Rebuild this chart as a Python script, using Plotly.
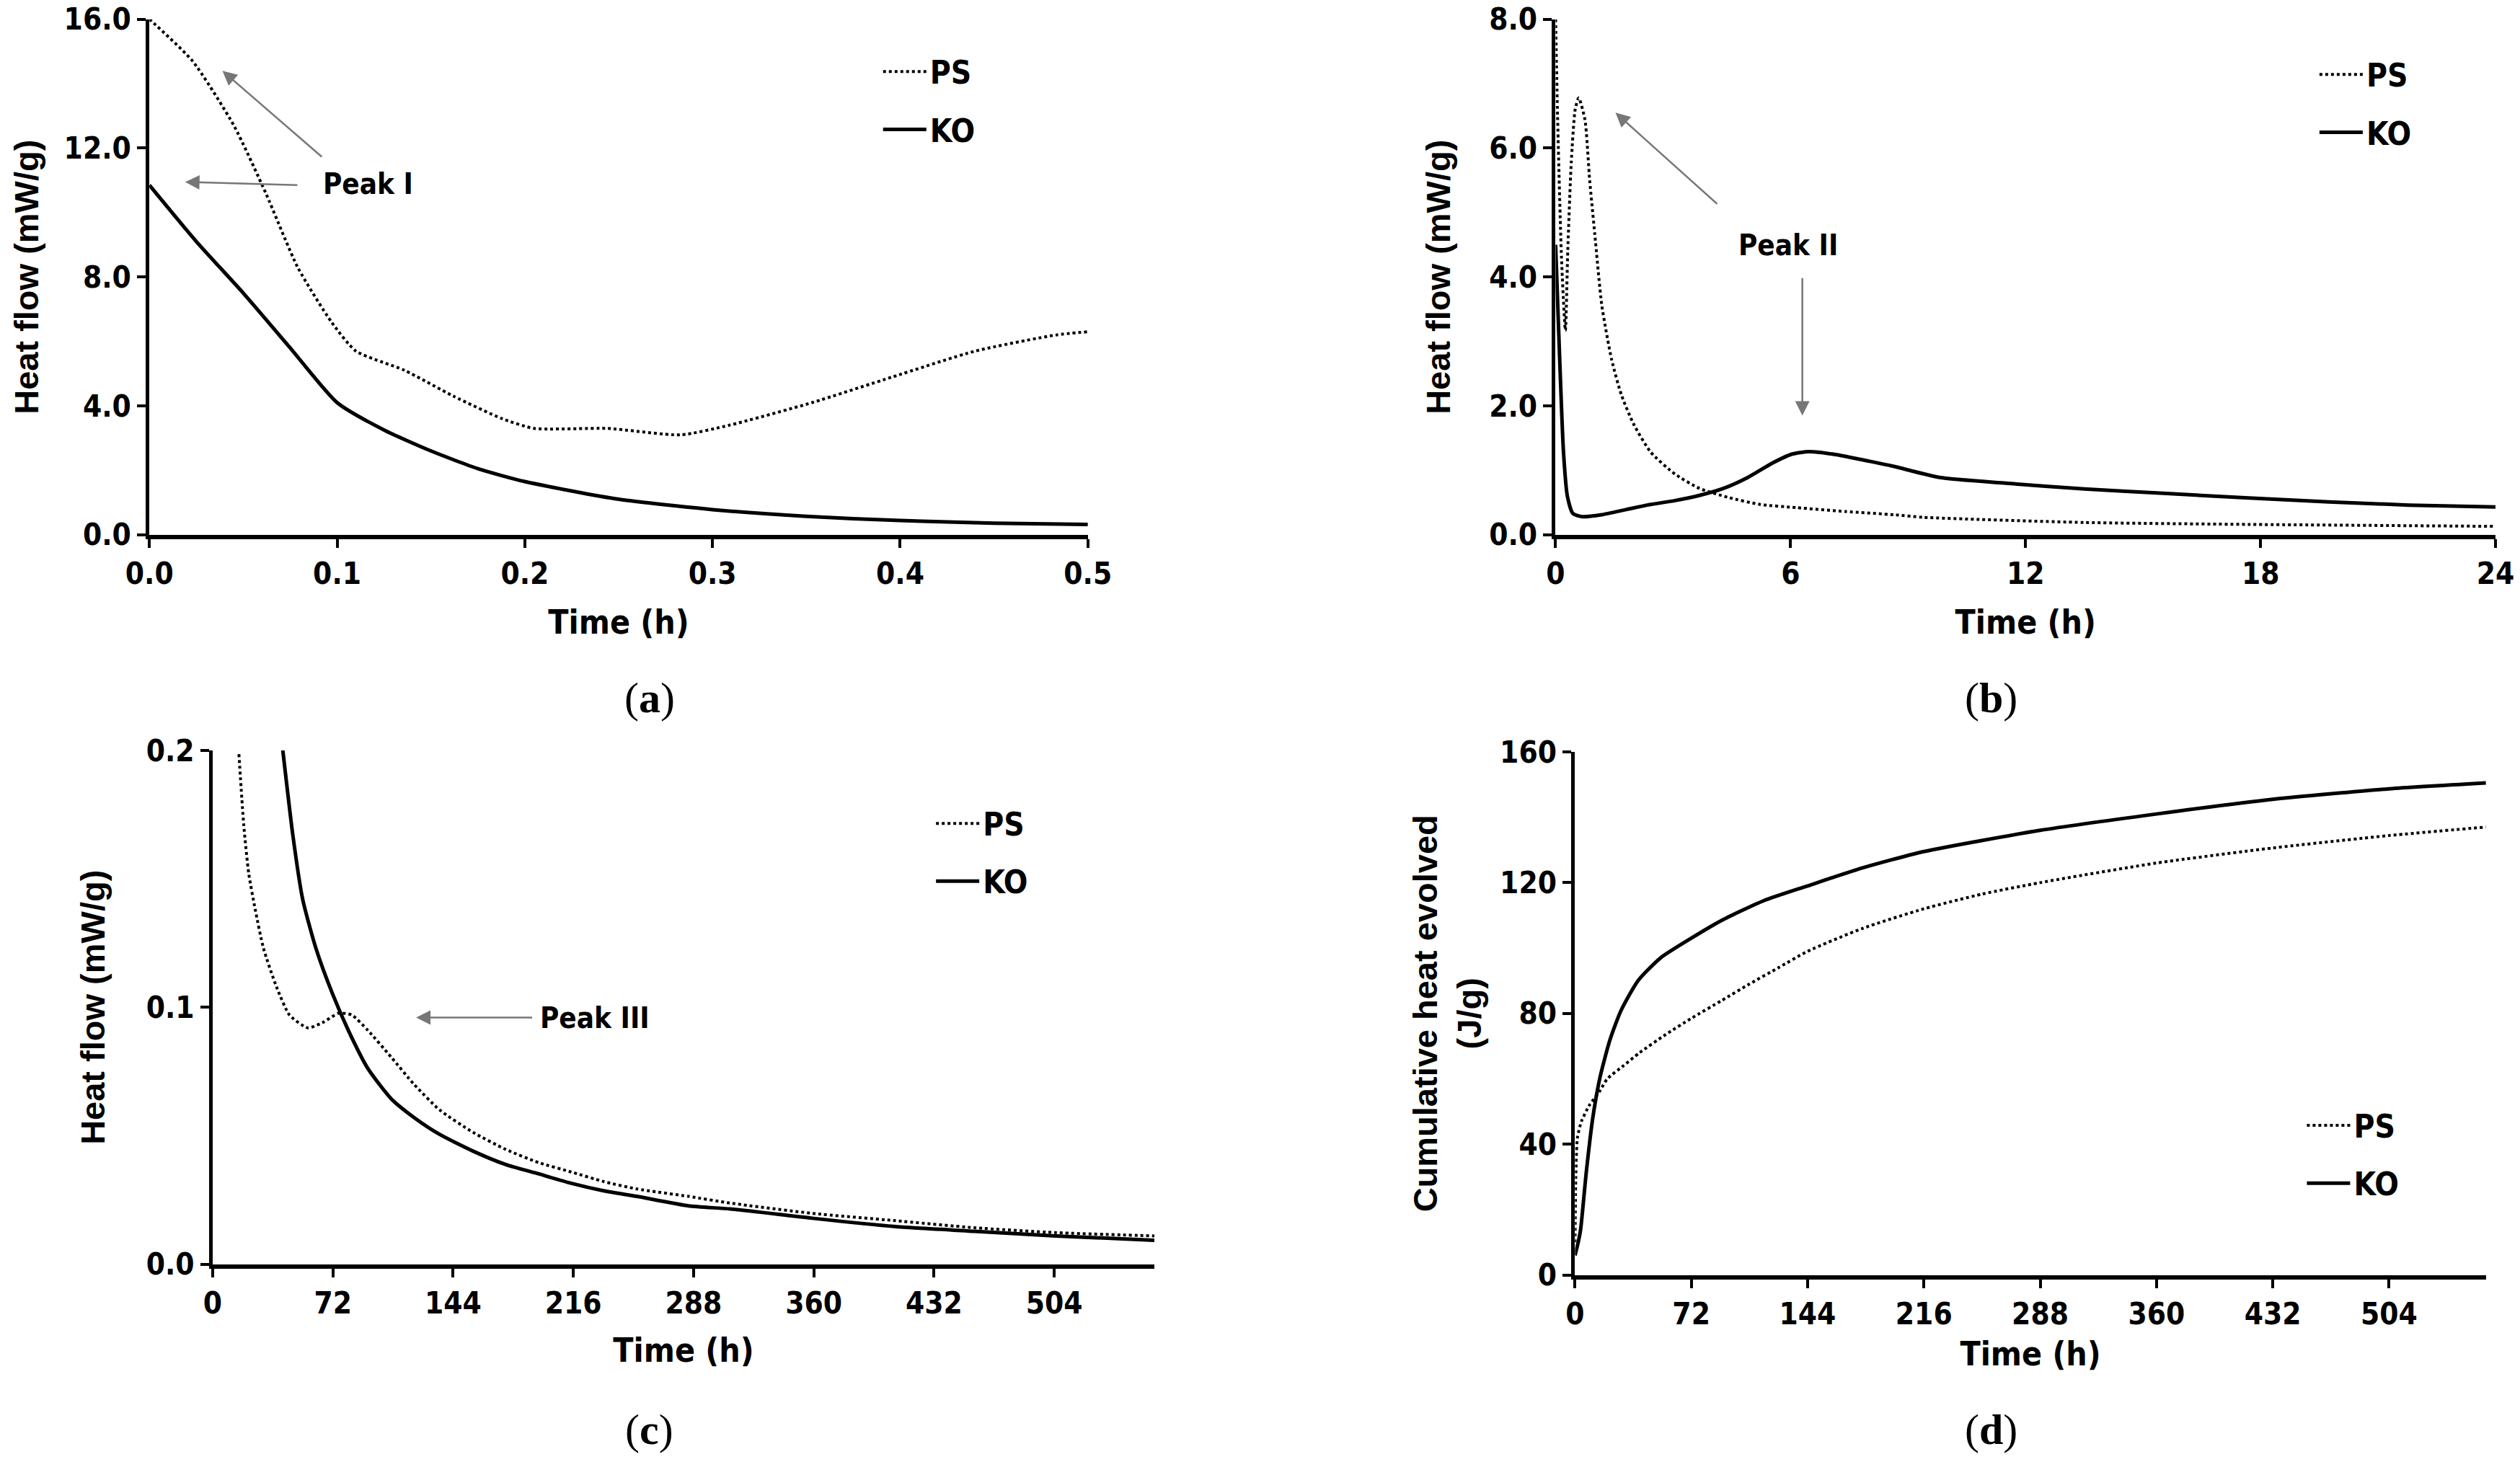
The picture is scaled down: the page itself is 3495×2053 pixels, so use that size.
import plotly.graph_objects as go

# ---- data ----
# (a) first half hour
a_time_ps = [0, 0.023, 0.045, 0.062, 0.079, 0.097, 0.11, 0.136, 0.162, 0.188, 0.205,
             0.244, 0.283, 0.309, 0.353, 0.396, 0.44, 0.483, 0.5]
a_ps = [16.0, 14.7, 12.7, 10.6, 8.3, 6.6, 5.7, 5.1, 4.3, 3.6, 3.3,
        3.3, 3.1, 3.4, 4.1, 4.9, 5.7, 6.2, 6.3]
a_time_ko = [0, 0.025, 0.05, 0.075, 0.1, 0.125, 0.15, 0.175, 0.2, 0.25, 0.3, 0.35, 0.4, 0.45, 0.5]
a_ko = [10.85, 9.1, 7.5, 5.8, 4.1, 3.25, 2.6, 2.05, 1.65, 1.1, 0.78, 0.57, 0.44, 0.36, 0.32]

# (b) first 24 h
b_time_ps = [0, 0.05, 0.15, 0.25, 0.31, 0.4, 0.5, 0.59, 0.75, 0.87, 1.0, 1.18, 1.43, 1.68,
             1.99, 2.43, 3.05, 3.67, 4.4, 5.22, 6.16, 7.4, 8.64, 9.4, 13.5, 17.7, 24]
b_ps = [8.0, 6.5, 4.3, 3.17, 4.39, 5.78, 6.6, 6.78, 6.44, 5.5, 4.67, 3.56, 2.72, 2.17,
        1.72, 1.28, 0.94, 0.72, 0.58, 0.47, 0.42, 0.36, 0.31, 0.27, 0.19, 0.16, 0.13]
b_time_ko = [0, 0.1, 0.2, 0.3, 0.44, 0.68, 1.18, 1.8, 2.43, 3.05, 3.67, 4.29, 4.91, 5.53,
             6.03, 6.47, 7.09, 8.02, 8.64, 9.8, 11.5, 13.5, 15.6, 17.7, 19.75, 21.8, 24]
b_ko = [4.5, 2.8, 1.3, 0.6, 0.33, 0.28, 0.31, 0.39, 0.47, 0.53, 0.61, 0.72, 0.89, 1.11,
        1.25, 1.29, 1.25, 1.14, 1.06, 0.89, 0.8, 0.71, 0.64, 0.57, 0.51, 0.46, 0.43]

# (c) long term heat flow
c_time_ps = [15.7, 18.6, 21.6, 25.5, 30.4, 38.2, 46, 56.9, 65.7, 75.5, 83.3, 93, 106.9,
             120.6, 136, 156, 175.5, 195, 214.7, 234, 254, 285, 310, 359, 408, 456, 505, 564]
c_ps = [0.1985, 0.171, 0.152, 0.138, 0.123, 0.108, 0.097, 0.092, 0.094, 0.0977, 0.097, 0.091,
        0.0806, 0.070, 0.060, 0.0513, 0.0447, 0.0396, 0.0359, 0.0322, 0.0293, 0.0264, 0.0238,
        0.0198, 0.017, 0.0142, 0.0123, 0.011]
c_time_ko = [42, 48, 53.9, 61.8, 71.6, 81.4, 93, 106.9, 120.6, 136, 156, 175.5, 195, 214.7,
             234, 254, 285, 310, 359, 408, 456, 505, 564]
c_ko = [0.2, 0.167, 0.142, 0.123, 0.1055, 0.0908, 0.0761, 0.0644, 0.0571, 0.0505, 0.044,
        0.0388, 0.0352, 0.0315, 0.0286, 0.0264, 0.0227, 0.0215, 0.0179, 0.0147, 0.0128,
        0.011, 0.0093]

# (d) cumulative heat
d_time_ps = [0, 0.5, 1.5, 4, 9, 15, 20, 30, 40, 56, 72, 91, 108, 126, 144, 178, 216,
             252, 288, 360, 432, 504, 564]
d_ps = [10, 30, 42, 47, 52, 56, 60, 64, 68, 73.5, 78.5, 84, 89, 94, 99, 106, 112,
        116.5, 120, 126, 130.6, 134.4, 137]
d_time_ko = [0, 2, 3.5, 7, 11, 15.5, 21.7, 28.6, 39, 53, 72, 91, 117, 144, 178, 216,
             288, 360, 432, 504, 564]
d_ko = [6, 10, 14, 31.5, 48, 60.5, 72, 81, 90, 97, 103, 108.5, 114.5, 119, 124.5,
        129.5, 136, 141, 145.5, 148.7, 150.5]

long_ticks = [0, 72, 144, 216, 288, 360, 432, 504]

NARROW = "Liberation Sans Narrow, Arial Narrow, DejaVu Sans Condensed, sans-serif"
WIDE = "Liberation Sans, Arial, sans-serif"
SERIF = "Liberation Serif, Times New Roman, serif"

fig = go.Figure()

panels = [
    ("", a_time_ps, a_ps, a_time_ko, a_ko, "legend"),
    ("2", b_time_ps, b_ps, b_time_ko, b_ko, "legend2"),
    ("3", c_time_ps, c_ps, c_time_ko, c_ko, "legend3"),
    ("4", d_time_ps, d_ps, d_time_ko, d_ko, "legend4"),
]
for n, tps, ps, tko, ko, leg in panels:
    fig.add_trace(go.Scatter(x=tps, y=ps, mode="lines", name="PS", legend=leg, legendgroup="ps",
                             line=dict(color="black", width=4, dash="dot", shape="spline", smoothing=0.6),
                             xaxis="x" + n, yaxis="y" + n))
    fig.add_trace(go.Scatter(x=tko, y=ko, mode="lines", name="KO", legend=leg, legendgroup="ko",
                             line=dict(color="black", width=5, shape="spline", smoothing=0.6),
                             xaxis="x" + n, yaxis="y" + n))

tickfont = dict(family=NARROW, size=42, color="black", weight="bold")


def xax(dom, anchor, rng, standoff, **kw):
    return dict(domain=dom, anchor=anchor, range=rng, showgrid=False, zeroline=False,
                automargin=False,
                showline=True, linecolor="black", linewidth=6, ticks="outside", ticklen=12,
                tickwidth=4, tickcolor="black", tickfont=tickfont,
                title=dict(text="Time (h)", standoff=standoff,
                           font=dict(family=NARROW, size=46, color="black", weight="bold")), **kw)


def yax(dom, anchor, rng, title, standoff, **kw):
    return dict(domain=dom, anchor=anchor, range=rng, showgrid=False, zeroline=False,
                automargin=False,
                showline=True, linecolor="black", linewidth=5, ticks="outside", ticklen=12,
                tickwidth=4, tickcolor="black", tickfont=tickfont,
                title=dict(text=title, standoff=standoff,
                           font=dict(family=WIDE, size=47, color="black", weight="bold")), **kw)


fig.update_layout(
    width=3495, height=2053,
    margin=dict(l=0, r=0, t=0, b=0, autoexpand=False),
    paper_bgcolor="white", plot_bgcolor="white",
    showlegend=True,
    xaxis=xax([0.0593, 0.4317], "y", [0, 0.5], 30, tickvals=[0, 0.1, 0.2, 0.3, 0.4, 0.5], tickformat=".1f"),
    yaxis=yax([0.6387, 0.987], "x", [0, 16], "Heat flow (mW/g)", 22, dtick=4, tickformat=".1f"),
    xaxis2=xax([0.6173, 0.9903], "y2", [0, 24], 30, dtick=6),
    yaxis2=yax([0.6387, 0.987], "x2", [0, 8], "Heat flow (mW/g)", 40, dtick=2, tickformat=".1f"),
    xaxis3=xax([0.0844, 0.4581], "y3", [0, 564], 28, tickvals=long_ticks),
    yaxis3=yax([0.1458, 0.493], "x3", [0, 0.2], "Heat flow (mW/g)", 44, dtick=0.1, tickformat=".1f"),
    xaxis4=xax([0.6250, 0.9865], "y4", [0, 564], 18, tickvals=long_ticks),
    yaxis4=yax([0.1385, 0.492], "x4", [0, 160], "Cumulative heat evolved<br>(J/g)", 12, dtick=40),
)

legfont = dict(family=NARROW, size=44, color="black", weight="bold")
for name, lx, ly in [("legend", 0.349, 0.932), ("legend2", 0.919, 0.930),
                     ("legend3", 0.370, 0.424), ("legend4", 0.914, 0.220)]:
    fig.update_layout({name: dict(x=lx, y=ly, xanchor="left", yanchor="middle", font=legfont,
                                  bgcolor="rgba(0,0,0,0)", itemwidth=60, tracegroupgap=20)})

# panel captions
for txt, cx, cy in [("a", 0.2577, 0.5285), ("b", 0.790, 0.5285), ("c", 0.2577, 0.034), ("d", 0.790, 0.034)]:
    fig.add_annotation(xref="paper", yref="paper", x=cx, y=cy, xanchor="center", yanchor="middle",
                       showarrow=False, text="(<b>" + txt + "</b>)",
                       font=dict(family=SERIF, size=60, color="black"))

# peak labels and arrows
pfont = dict(family=NARROW, size=40, color="black", weight="bold")
fig.add_annotation(xref="x", yref="y", x=0.1166, y=10.9, text="Peak I", showarrow=False, font=pfont)
fig.add_annotation(xref="x2", yref="y2", x=5.93, y=4.5, text="Peak II", showarrow=False, font=pfont)
fig.add_annotation(xref="x3", yref="y3", x=229, y=0.096, text="Peak III", showarrow=False, font=pfont)

arrows = [
    ("x", "y", 0.0794, 10.85, 0.019, 10.95),
    ("x", "y", 0.0924, 11.7, 0.0389, 14.4),
    ("x2", "y2", 4.15, 5.12, 1.53, 6.55),
    ("x2", "y2", 6.3, 4.0, 6.3, 1.85),
    ("x3", "y3", 192, 0.096, 121.8, 0.096),
]
for xr, yr, x0, y0, x1, y1 in arrows:
    fig.add_annotation(xref=xr, yref=yr, axref=xr, ayref=yr, x=x1, y=y1, ax=x0, ay=y0,
                       text="", showarrow=True, arrowhead=2, arrowsize=1.6, arrowwidth=2.5,
                       arrowcolor="#777777")

# the page margin would push the fixed-size figure off the window edge
fig.write_html("out.html", config={"displayModeBar": False},
               post_script="document.body.style.margin='0';document.body.style.overflow='hidden';")
